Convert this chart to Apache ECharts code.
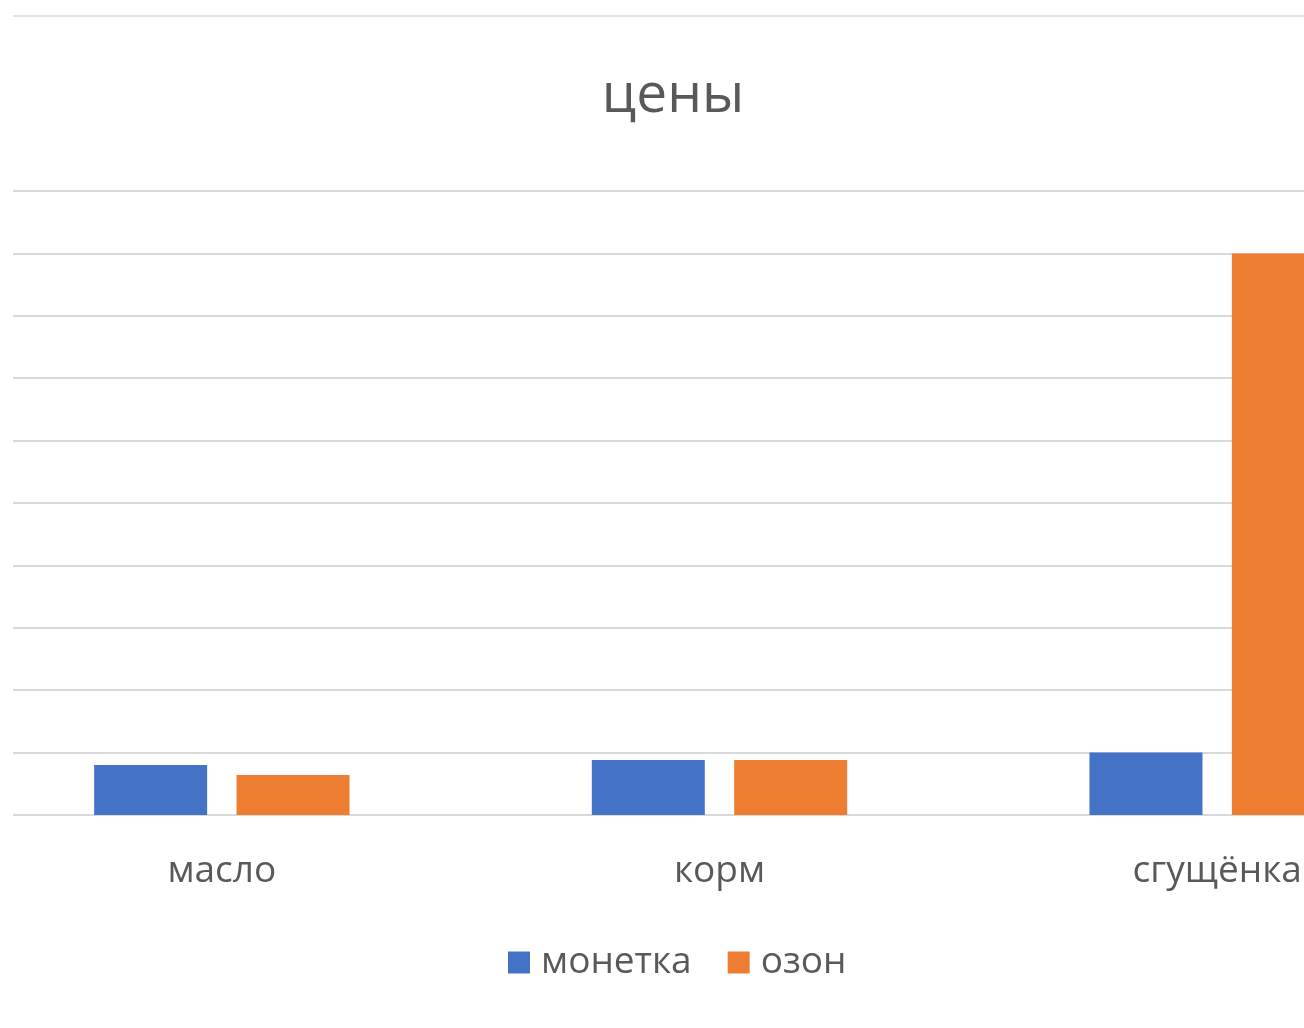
<!DOCTYPE html>
<html>
<head>
<meta charset="utf-8">
<script src="https://cdn.jsdelivr.net/npm/echarts@6/dist/echarts.min.js"></script>
<style>
html,body{margin:0;padding:0;background:#fff;}
#chart{width:1304px;height:1028px;}
</style>
</head>
<body>
<div id="chart"></div>
<script>
var titleText = 'цены';
var categories = ['масло', 'корм', 'сгущёнка'];
var seriesNames = ['монетка', 'озон'];
var monetka = [80, 88, 100];
var ozon = [64, 88, 900];
var axisMax = 1000;
var axisInterval = 100;

var chart = echarts.init(document.getElementById('chart'), null, {renderer: 'canvas'});
var font = '"Open Sans", "Noto Sans", sans-serif';
var option = {
  backgroundColor: '#ffffff',
  animation: false,
  color: ['#4472C4', '#ED7D31'],
  title: {
    text: titleText,
    left: 668,
    textAlign: 'center',
    top: 64,
    textStyle: {fontFamily: font, fontSize: 55, fontWeight: 'normal', color: '#595959'}
  },
  legend: {
    data: seriesNames,
    left: 503,
    top: 939,
    icon: 'rect',
    itemWidth: 22,
    itemHeight: 22,
    itemGap: 36,
    textStyle: {fontFamily: font, fontSize: 37, color: '#595959', padding: [0, 0, 0, 6]}
  },
  grid: [
    {left: 13, right: 0, top: 191, bottom: 213, outerBoundsMode: 'none'},
    {left: -27, width: 1493, top: 191, bottom: 213, outerBoundsMode: 'none', containLabel: false}
  ],
  xAxis: [
    {type: 'value', gridIndex: 0, show: false, min: 0, max: 1},
    {
      type: 'category', gridIndex: 1, data: categories,
      axisLine: {show: false}, axisTick: {show: false},
      axisLabel: {fontFamily: font, fontSize: 37, color: '#595959', margin: 38}
    }
  ],
  yAxis: [
    {
      type: 'value', gridIndex: 0, min: 0, max: axisMax, interval: axisInterval,
      axisLabel: {show: false}, axisLine: {show: false}, axisTick: {show: false},
      splitLine: {show: true, lineStyle: {color: '#d9d9d9', width: 2}}
    },
    {type: 'value', gridIndex: 1, min: 0, max: axisMax, interval: axisInterval, show: false, splitLine: {show: false}}
  ],
  graphic: [
    {type: 'line', shape: {x1: 13, y1: 16, x2: 1304, y2: 16}, style: {stroke: '#e2e2e2', lineWidth: 2}, silent: true}
  ],
  series: [
    {name: seriesNames[0], type: 'bar', xAxisIndex: 1, yAxisIndex: 1, data: monetka, barWidth: 113, barGap: '26%'},
    {name: seriesNames[1], type: 'bar', xAxisIndex: 1, yAxisIndex: 1, data: ozon, barWidth: 113, barGap: '26%'}
  ]
};
chart.setOption(option);
</script>
</body>
</html>
